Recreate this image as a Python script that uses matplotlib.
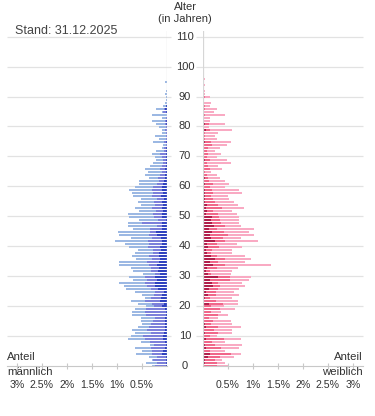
import matplotlib
matplotlib.use("Agg")
import matplotlib.pyplot as plt
import numpy as np

plt.rcParams['font.family'] = ['Liberation Sans', 'DejaVu Sans']

## shares in 0.01 % of the population, list index = age in years
male_dark = [2,2,2,2,10,8,4,2,4,8, 8,6,4,4,4,4,4,2,2,4,
             10,6,14,12,10,6,18,24,24,20, 24,14,18,16,20,16,14,16,16,12,
             14,10,10,12,20,22,10,10,10,2, 10,10,8,10,8,10,6,12,8,10,
             10,8,6,4,4,2,4,2,2,2, 2,2,2,2,0,2,0,0,0,0,
             0,2,2,0,0,2,4,2,0,0, 0,0,0,0,0,0]
male_mid = [22,18,26,18,20,22,28,24,30,36, 40,26,36,32,28,24,20,40,42,38,
            16,24,30,20,16,18,14,16,20,20, 20,10,14,16,16,24,16,20,12,16,
            24,26,28,18,16,12,24,10,40,16, 16,18,14,20,16,16,14,18,20,20,
            18,12,10,14,10,8,10,8,6,6, 8,12,4,4,2,4,2,2,2,4,
            2,2,2,2,0,6,2,0,0,0, 0,0,0,0,0,0]
male_light = [6,22,2,16,32,20,32,8,18,34, 24,32,30,22,18,24,28,28,26,22,
              16,28,28,12,24,40,50,46,52,28, 32,24,36,40,60,56,32,34,36,30,
              38,48,66,42,60,64,34,58,28,38, 50,50,34,34,28,32,32,38,42,46,
              36,36,40,18,30,28,30,24,20,14, 14,16,16,4,6,22,14,22,8,6,
              14,18,26,8,30,2,16,6,4,2, 2,4,2,0,0,4]

female_dark = [2,4,4,10,14,0,6,4,2,6, 2,4,2,6,4,2,0,2,2,2,
               0,12,2,4,10,6,12,20,18,14, 30,10,6,8,20,14,24,16,8,6,
               10,8,24,16,14,18,12,22,18,16, 18,6,8,6,8,4,4,4,4,4,
               2,4,2,4,2,0,2,2,2,4, 0,2,2,0,2,4,2,2,2,6,
               0,4,0,0,2,2,2,2,0,2, 2,2,2,0,0,0,0]
female_mid = [26,24,20,24,42,14,30,20,16,36, 12,26,20,24,12,18,12,28,14,32,
              16,28,24,10,16,20,18,14,12,40, 24,6,8,20,24,16,20,12,8,12,
              22,20,20,24,36,24,16,22,18,18, 14,24,12,32,22,20,16,12,16,14,
              12,16,10,6,6,4,12,8,6,10, 8,8,6,10,16,12,2,2,2,8,
              2,8,0,0,2,0,2,2,0,0, 2,0,0,0,0,0,0]
female_light = [22,16,14,28,20,30,36,54,26,34, 14,28,36,46,42,36,18,20,20,30,
                26,30,44,44,46,36,42,50,48,38, 42,40,44,42,92,54,52,56,42,40,
                46,40,66,36,52,50,74,32,36,38, 40,38,38,44,40,38,32,34,58,54,
                30,32,32,24,20,12,24,20,48,34, 20,26,16,24,30,40,24,20,26,44,
                10,32,14,14,40,20,24,10,16,0, 10,2,2,0,4,0,4]

age_ticks = list(range(0, 111, 10))
share_ticks = [0.5, 1, 1.5, 2, 2.5, 3]
share_labels = ['0.5%', '1%', '1.5%', '2%', '2.5%', '3%']

blue_colors = ['#3042bf', '#7c80da', '#9cb8e3']
pink_colors = ['#b01f4b', '#f0678a', '#f9aac3']
grid_color = '#e2e2e2'
text_color = '#333333'

W, H = 375, 416
fig = plt.figure(figsize=(W / 100, H / 100), dpi=100)

## pixel layout
age_lo, age_hi = -1, 112
zero_px = 365.7
px_per_year = 2.99
bot_px = zero_px - age_lo * px_per_year
top_px = zero_px - age_hi * px_per_year
ax_bottom = 1 - bot_px / H
ax_height = (bot_px - top_px) / H

ax_bg = fig.add_axes([0, ax_bottom, 1, ax_height])
ax_bg.set_xlim(0, W)
ax_bg.set_ylim(age_lo, age_hi)
ax_bg.axis('off')

ax_m = fig.add_axes([7 / W, ax_bottom, 160 / W, ax_height], facecolor='none')
ax_f = fig.add_axes([203 / W, ax_bottom, 160 / W, ax_height], facecolor='none')

## grid lines with a gap for the age labels
ax_bg.hlines(age_ticks[1:], 7, 171, color=grid_color, lw=0.9)
ax_bg.hlines(age_ticks[1:], 196, 363, color=grid_color, lw=0.9)
for a in age_ticks:
    ax_bg.text(185, a, str(a), ha='center', va='center', fontsize=8, color=text_color)


def draw_side(ax, segments, colors):
    vals = [np.array(s) / 100.0 for s in segments]
    ages = np.arange(len(vals[0]))
    left = np.zeros(len(ages))
    for v, c in zip(vals, colors):
        ax.barh(ages - 0.2, v, left=left, height=0.67, color=c, linewidth=0)
        left = left + v
    ax.set_ylim(age_lo, age_hi)
    ax.set_yticks([])
    for s in ['top', 'left', 'right']:
        ax.spines[s].set_visible(False)
    ax.spines['bottom'].set_position(('data', 0))
    ax.spines['bottom'].set_color('#c8c8c8')
    ax.set_xticks(share_ticks)
    ax.set_xticklabels(share_labels)
    ax.tick_params(axis='x', direction='inout', length=4, color='#c8c8c8',
                   labelsize=7.6, pad=8.5, labelcolor=text_color)
    ax.axvline(0, ymin=(0 - age_lo) / (age_hi - age_lo), ymax=1, color='#d6d6d6', lw=0.9)


draw_side(ax_m, [male_dark, male_mid, male_light], blue_colors)
ax_m.set_xlim(3.2, 0)
draw_side(ax_f, [female_dark, female_mid, female_light], pink_colors)
ax_f.set_xlim(0, 3.2)


## texts, positioned in pixels
def ft(x, y, s, color=text_color, **kw):
    fig.text(x / W, 1 - y / H, s, va='center', color=color, **kw)


ft(185, 7, 'Alter', ha='center', fontsize=8)
ft(185, 19, '(in Jahren)', ha='center', fontsize=8)
ft(15, 31, 'Stand: 31.12.2025', ha='left', fontsize=9, color='#444444')
ft(7, 357, 'Anteil', ha='left', fontsize=8.2)
ft(7, 372, 'männlich', ha='left', fontsize=8.2)
ft(363, 357, 'Anteil', ha='right', fontsize=8.2)
ft(363, 372, 'weiblich', ha='right', fontsize=8.2)

fig.savefig('out.png', dpi=100)
